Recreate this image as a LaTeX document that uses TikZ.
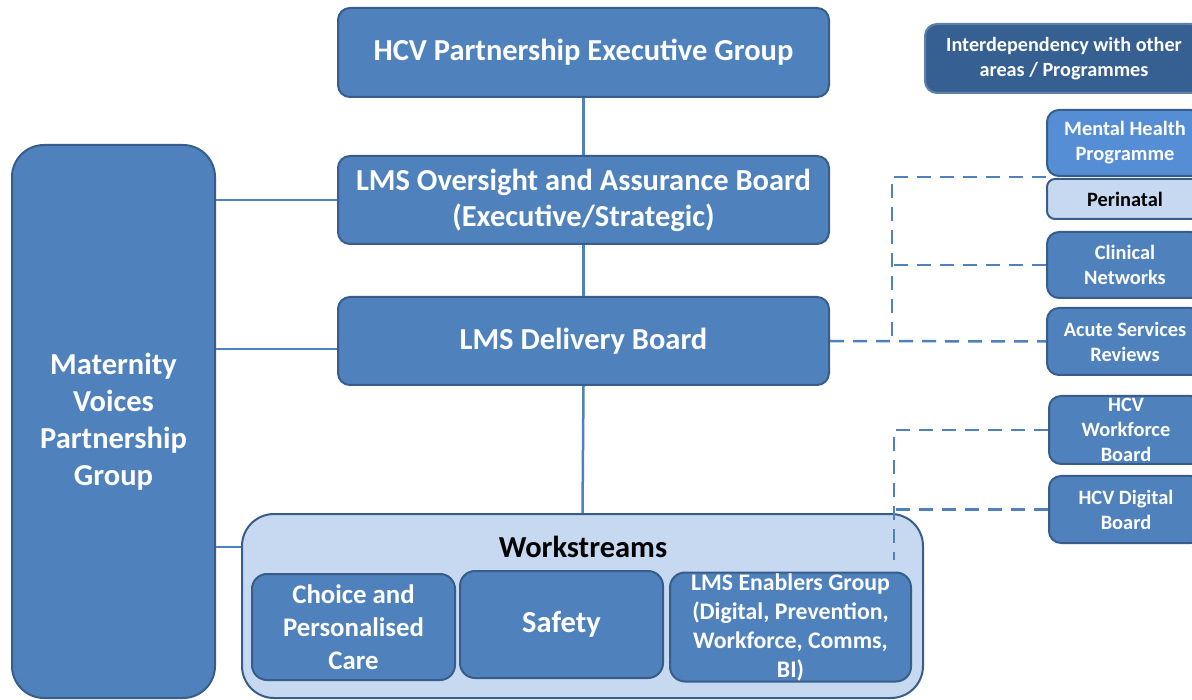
\documentclass[tikz,border=0pt]{standalone}
\usepackage{fontspec}
\setmainfont{Carlito}
\definecolor{boxblue}{HTML}{4F81BD}
\definecolor{edgeblue}{HTML}{385D8A}
\definecolor{lightblue}{HTML}{C6D9F1}
\definecolor{midblue}{HTML}{558ED5}
\definecolor{darkblue}{HTML}{376092}
\tikzset{
  box/.style={draw=edgeblue, line width=2pt, fill=boxblue, rounded corners=12pt,
    text=white, font=\bfseries, align=center, inner sep=0pt},
  link/.style={draw=boxblue, line width=2.5pt},
  dlink/.style={draw=boxblue, line width=2.5pt, dash pattern=on 14pt off 9pt},
}
\newcommand{\fs}[2]{\fontsize{#1}{#2}\selectfont}
\begin{document}
\begin{tikzpicture}[x=1pt,y=-1pt]
\clip (0,0) rectangle (1192,700);
\fill[white] (0,0) rectangle (1192,700);

% central chain of boards
\node[box, minimum width=491pt, minimum height=89pt, font=\bfseries\fs{30.5}{36}] (exec) at (583.5,52.5) {HCV Partnership Executive Group};
\node[box, minimum width=491pt, minimum height=88pt, font=\bfseries\fs{30.5}{36}] (over) at (583.5,200) {LMS Oversight and Assurance Board\\(Executive/Strategic)};
\node[box, minimum width=491pt, minimum height=88pt, font=\bfseries\fs{30.5}{36}] (deliv) at (583.5,341) {LMS Delivery Board};

% maternity voices column
\node[box, rounded corners=32pt, minimum width=203pt, minimum height=553pt, font=\bfseries\fs{30.5}{37}] (mvp) at (113.5,421.5) {Maternity\\Voices\\Partnership\\Group};

% workstreams container
\node[box, fill=lightblue, rounded corners=32pt, minimum width=681pt, minimum height=184pt] (ws) at (582.5,606) {};
\node[font=\bfseries\fs{30.5}{34}, text=black, inner sep=0pt] (wstitle) at (583,547) {Workstreams};
\node[box, rounded corners=15pt, minimum width=203pt, minimum height=106pt, font=\bfseries\fs{26.8}{33}] (choice) at (353.5,627) {Choice and\\Personalised\\Care};
\node[box, rounded corners=15pt, minimum width=203pt, minimum height=107pt, font=\bfseries\fs{30.5}{33}] (safety) at (561.5,624.5) {Safety};
\node[box, rounded corners=15pt, minimum width=241pt, minimum height=109pt, font=\bfseries\fs{23.8}{29}] (enab) at (790.5,627) {LMS Enablers Group\\(Digital, Prevention,\\Workforce, Comms,\\BI)};

% related programmes on the right
\node[box, fill=darkblue, draw=darkblue!80!white, minimum width=278pt, minimum height=69pt, font=\bfseries\fs{20.2}{25}] (inter) at (1064,58.5) {Interdependency with other\\areas / Programmes};
\node[box, fill=midblue, minimum width=156pt, minimum height=66pt, font=\bfseries\fs{20.4}{25}] (mh) at (1125,143) {Mental Health\\Programme};
\node[box, fill=lightblue, text=black, rounded corners=8pt, minimum width=156pt, minimum height=40pt, font=\bfseries\fs{20.4}{25}] (peri) at (1125,199) {Perinatal};
\node[box, minimum width=156pt, minimum height=66pt, font=\bfseries\fs{20.4}{25}] (clin) at (1125,265) {Clinical\\Networks};
\node[box, minimum width=156pt, minimum height=67pt, font=\bfseries\fs{20.4}{25}] (acute) at (1125,341.5) {Acute Services\\Reviews};
\node[box, minimum width=154pt, minimum height=68pt, font=\bfseries\fs{20.4}{25}] (wf) at (1126,430) {HCV\\Workforce\\Board};
\node[box, minimum width=154pt, minimum height=67pt, font=\bfseries\fs{20.4}{25}] (dig) at (1126,509.5) {HCV Digital\\Board};

% reporting lines
\coordinate (m2) at (0,349);
\draw[link] (exec.south) -- (over.north);
\draw[link] (over.south) -- (deliv.north);
\draw[link] (deliv.south) -- (ws.north);
\draw[link] (mvp.east |- over.west) -- (over.west);
\draw[link] (mvp.east |- m2) -- (deliv.west |- m2);
\draw[link] (mvp.east |- wstitle) -- (ws.west |- wstitle);

% interdependency links
\coordinate (j1) at (892,177);
\coordinate (j2) at (892,341);
\coordinate (j3) at (894,430);
\coordinate (j4) at (894,560);
\draw[dlink] (deliv.east) -- (acute.west);
\draw[dlink] (mh.south west) -- (j1) -- (j2);
\draw[dlink] (clin.west) -- (j1 |- clin.west);
\draw[dlink] (wf.west) -- (j3) -- (j4);
\draw[dlink] (dig.west) -- (j3 |- dig.west);
\end{tikzpicture}
\end{document}
